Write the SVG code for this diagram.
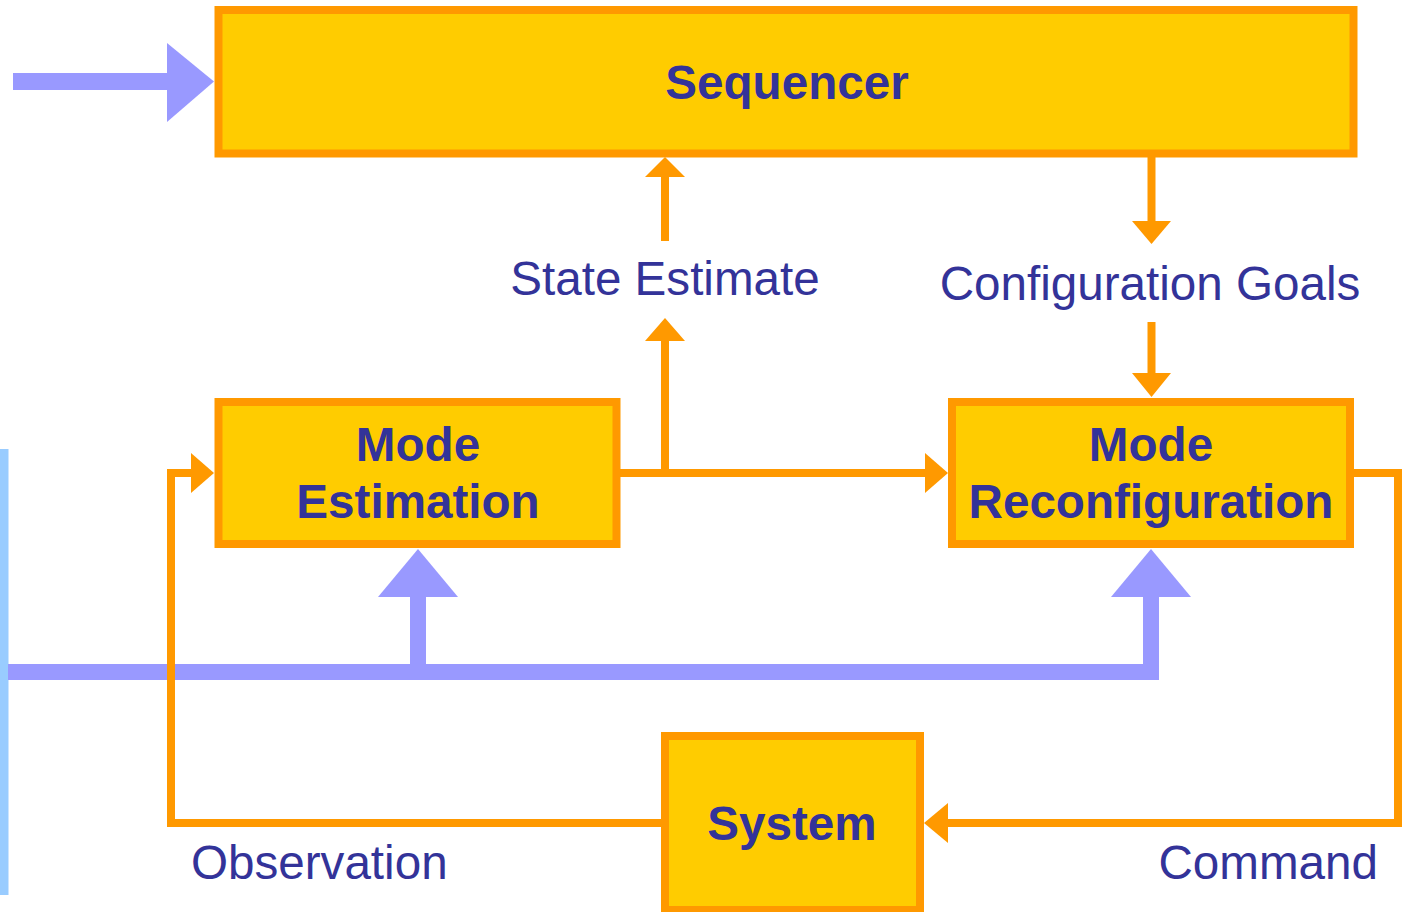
<svg xmlns="http://www.w3.org/2000/svg" width="1406" height="912" viewBox="0 0 1406 912">
<style>
.box{fill:#FFCC00;stroke:#FF9900;stroke-width:8}
.t{font-family:"Liberation Sans",Arial,sans-serif;font-size:47.6px;fill:#333399}
.b{font-weight:bold;text-anchor:middle}
.or{fill:none;stroke:#FF9900;stroke-width:8}
.oh{fill:#FF9900}
.bl{fill:#9999FF}
</style>
<rect width="1406" height="912" fill="#FFFFFF"/>
<g id="connectors">
<rect x="0" y="449" width="8.5" height="446" fill="#99CCFF"/>
<rect class="bl" x="13" y="73" width="156" height="17"/>
<polygon class="bl" points="167,43 214,81.5 167,122"/>
<rect class="bl" x="8" y="664" width="1151" height="16"/>
<rect class="bl" x="410" y="594" width="16" height="80"/>
<polygon class="bl" points="378,597 418,549 458,597"/>
<rect class="bl" x="1143" y="594" width="16" height="86"/>
<polygon class="bl" points="1111,597 1151,549 1191,597"/>
<line class="or" x1="665" y1="241" x2="665" y2="175"/>
<polygon class="oh" points="645,177 665,157 685,177"/>
<line class="or" x1="1151.5" y1="157" x2="1151.5" y2="223"/>
<polygon class="oh" points="1132,221 1151.5,244 1171,221"/>
<line class="or" x1="1151.5" y1="322" x2="1151.5" y2="375"/>
<polygon class="oh" points="1132,373 1151.5,397 1171,373"/>
<polyline class="or" points="665,473 665,339"/>
<polygon class="oh" points="645,341 665,318 685,341"/>
<line class="or" x1="620" y1="473" x2="927" y2="473"/>
<polygon class="oh" points="925,453 948,473 925,493"/>
<polyline class="or" points="661,823 171,823 171,473 193,473"/>
<polygon class="oh" points="191,453 214,473 191,493"/>
<polyline class="or" points="1354,473 1398,473 1398,823 946,823"/>
<polygon class="oh" points="948,803 924,823 948,843"/>
</g>
<g id="sequencer">
<rect class="box" x="218.5" y="10" width="1135" height="143.5"/>
<text class="t b" x="787" y="99">Sequencer</text>
</g>
<g id="mode-estimation">
<rect class="box" x="218.5" y="402" width="398" height="142"/>
<text class="t b" x="418" y="461">Mode</text>
<text class="t b" x="418" y="518">Estimation</text>
</g>
<g id="mode-reconfiguration">
<rect class="box" x="952" y="402" width="398" height="142"/>
<text class="t b" x="1151" y="461">Mode</text>
<text class="t b" x="1151" y="518">Reconfiguration</text>
</g>
<g id="system">
<rect class="box" x="665" y="736" width="255" height="174"/>
<text class="t b" x="792" y="840">System</text>
</g>
<g id="labels">
<text class="t" x="665" y="295" text-anchor="middle">State Estimate</text>
<text class="t" x="1150" y="300" text-anchor="middle">Configuration Goals</text>
<text class="t" x="191" y="879">Observation</text>
<text class="t" x="1378" y="879" text-anchor="end">Command</text>
</g>
</svg>
